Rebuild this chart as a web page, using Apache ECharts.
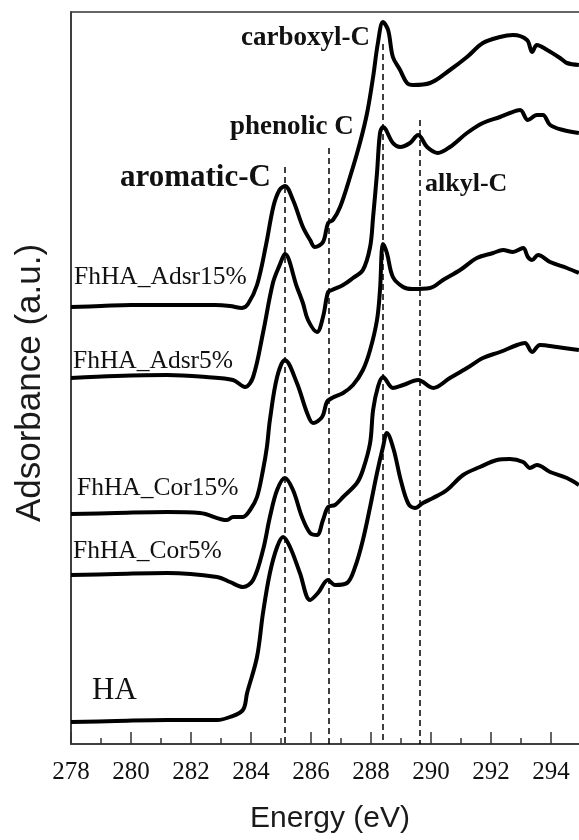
<!DOCTYPE html>
<html>
<head>
<meta charset="utf-8">
<script src="https://cdn.jsdelivr.net/npm/echarts@6/dist/echarts.min.js"></script>
<style>
html,body{margin:0;padding:0;background:#fff;}
#chart{width:579px;height:840px;}
</style>
</head>
<body>
<div id="chart"></div>
<script>
// ---- data (energy eV, absorbance a.u., offset-stacked) ----
const adsr15 = [[278.0,4.37],[279.0,4.38],[280.0,4.39],[281.0,4.39],[282.0,4.39],[282.8,4.39],[283.3,4.38],[283.7,4.36],[283.9,4.40],[284.2,4.59],[284.5,4.99],[284.75,5.38],[284.95,5.54],[285.13,5.58],[285.4,5.44],[285.73,5.17],[285.97,5.04],[286.13,4.97],[286.4,5.02],[286.57,5.21],[286.73,5.24],[286.97,5.37],[287.3,5.67],[287.63,6.01],[287.87,6.31],[288.07,6.67],[288.23,7.01],[288.4,7.22],[288.57,7.14],[288.73,6.87],[288.97,6.74],[289.2,6.61],[289.4,6.59],[289.97,6.61],[290.63,6.74],[291.2,6.87],[291.73,7.01],[292.3,7.07],[292.73,7.09],[293.2,7.04],[293.37,6.92],[293.53,6.99],[293.87,6.94],[294.3,6.86],[294.53,6.81],[294.93,6.79]];
const adsr5 = [[278.0,3.66],[279.5,3.68],[281.2,3.69],[282.5,3.67],[283.4,3.64],[283.8,3.57],[284.07,3.67],[284.4,4.11],[284.73,4.61],[284.97,4.80],[285.13,4.90],[285.53,4.57],[285.73,4.41],[285.9,4.24],[286.2,4.12],[286.4,4.27],[286.57,4.52],[286.7,4.54],[287.07,4.59],[287.4,4.66],[287.73,4.74],[287.97,4.97],[288.07,5.27],[288.2,5.71],[288.3,6.11],[288.4,6.17],[288.73,6.01],[288.97,5.97],[289.3,6.01],[289.57,6.09],[289.87,5.97],[290.23,5.91],[290.63,5.97],[291.2,6.11],[291.73,6.21],[292.3,6.27],[292.63,6.31],[292.97,6.34],[293.23,6.24],[293.53,6.29],[293.73,6.29],[293.97,6.19],[294.4,6.14],[294.93,6.11]];
const cor15 = [[278.0,2.30],[279.5,2.31],[281.2,2.32],[282.3,2.31],[283.2,2.24],[283.4,2.27],[283.73,2.27],[283.97,2.34],[284.2,2.47],[284.4,2.74],[284.53,2.97],[284.63,3.24],[284.87,3.67],[285.13,3.84],[285.53,3.61],[285.87,3.31],[286.07,3.21],[286.37,3.27],[286.53,3.42],[286.7,3.46],[287.07,3.51],[287.4,3.59],[287.73,3.74],[287.97,3.94],[288.2,4.24],[288.3,4.54],[288.4,5.00],[288.53,4.91],[288.73,4.67],[289.07,4.57],[289.37,4.55],[289.97,4.56],[290.4,4.64],[290.97,4.74],[291.53,4.86],[292.07,4.91],[292.4,4.94],[292.73,4.92],[293.07,4.96],[293.23,4.87],[293.37,4.84],[293.57,4.89],[293.97,4.82],[294.53,4.76],[294.93,4.71]];
const cor5 = [[278.0,1.69],[279.5,1.70],[281.2,1.71],[282.87,1.67],[283.3,1.62],[283.73,1.57],[284.07,1.64],[284.4,1.94],[284.63,2.27],[284.87,2.54],[285.13,2.66],[285.4,2.54],[285.7,2.27],[285.97,2.11],[286.2,2.09],[286.4,2.24],[286.57,2.37],[286.8,2.39],[287.07,2.47],[287.53,2.61],[287.73,2.74],[287.97,3.01],[288.07,3.34],[288.23,3.57],[288.4,3.67],[288.73,3.56],[289.07,3.59],[289.57,3.64],[290.07,3.56],[290.63,3.66],[291.2,3.76],[291.73,3.86],[292.3,3.92],[292.87,3.99],[293.13,4.01],[293.37,3.92],[293.63,3.99],[294.2,3.97],[294.93,3.94]];
const ha = [[278.0,0.22],[279.5,0.23],[281.2,0.24],[282.87,0.24],[283.3,0.27],[283.73,0.34],[283.87,0.51],[284.2,0.87],[284.4,1.31],[284.63,1.71],[284.87,1.97],[285.07,2.07],[285.3,1.97],[285.63,1.71],[285.97,1.44],[286.23,1.51],[286.57,1.64],[286.8,1.59],[287.2,1.61],[287.47,1.77],[287.73,2.04],[287.97,2.37],[288.2,2.71],[288.4,2.97],[288.53,3.11],[288.75,2.95],[289.0,2.63],[289.25,2.40],[289.47,2.36],[289.73,2.41],[290.07,2.46],[290.53,2.54],[291.07,2.69],[291.63,2.77],[292.2,2.84],[292.63,2.85],[293.07,2.82],[293.3,2.76],[293.53,2.79],[293.97,2.72],[294.53,2.66],[294.93,2.59]];

const seriesNames = ['FhHA_Adsr15%','FhHA_Adsr5%','FhHA_Cor15%','FhHA_Cor5%','HA'];
const seriesData = [adsr15, adsr5, cor15, cor5, ha];

const peakNames = ['aromatic-C','phenolic C','carboxyl-C','alkyl-C'];
const peakEnergy = [285.13, 286.6, 288.4, 289.62];
const peakLineTop = [5.77, 5.96, 7.0, 6.24];

const xTickMin = 278, xTickMax = 296, xTickStep = 2;
const xTitle = 'Energy (eV)';
const yTitle = 'Adsorbance (a.u.)';

// ---- chart ----
const chart = echarts.init(document.getElementById('chart'), null, {renderer:'canvas'});
const SERIF = '"Liberation Serif","Times New Roman",serif';
const SANS = '"Liberation Sans",Arial,sans-serif';
const axisColor = '#333';

const lineSeries = seriesNames.map((n, i) => ({
  name: n, type: 'line', data: seriesData[i], showSymbol: false, symbol: 'none',
  smooth: 0.35, lineStyle: {color: '#000', width: 4}, silent: true, z: 3
}));
lineSeries.push({
  type: 'line', data: [], silent: true, z: 2,
  markLine: {
    silent: true, symbol: ['none','none'], label: {show: false},
    lineStyle: {color: '#000', width: 1.5, type: [6, 4]},
    data: peakEnergy.map((e, i) => [{coord: [e, peakLineTop[i]]}, {coord: [e, 0]}])
  }
});

const labelPos = [ // [x, y] pixel anchors for sample labels
  [74, 277], [73, 361], [77, 488], [73, 551], [92, 691]
];
const labelSize = [25.5, 25.5, 25.5, 25.5, 31];
const peakLabelPos = [[120, 178], [230, 127], [241, 38], [425, 184]];
const peakLabelSize = [31, 27, 27, 26];

const graphics = [];
seriesNames.forEach((n, i) => graphics.push({
  type: 'text', x: labelPos[i][0], y: labelPos[i][1], silent: true,
  style: {text: n, font: labelSize[i] + 'px ' + SERIF, fill: '#111', align: 'left', verticalAlign: 'middle'}
}));
peakNames.forEach((n, i) => graphics.push({
  type: 'text', x: peakLabelPos[i][0], y: peakLabelPos[i][1], silent: true,
  style: {text: n, font: 'bold ' + peakLabelSize[i] + 'px ' + SERIF, fill: '#111', align: 'left', verticalAlign: 'middle'}
}));
graphics.push({
  type: 'text', x: 330, y: 819, silent: true,
  style: {text: xTitle, font: '30px ' + SANS, fill: '#1a1a1a', align: 'center', verticalAlign: 'middle'}
});
graphics.push({
  type: 'text', x: 30, y: 383, rotation: Math.PI / 2, silent: true,
  style: {text: yTitle, font: '35px ' + SANS, fill: '#1a1a1a', align: 'center', verticalAlign: 'middle'}
});

chart.setOption({
  animation: false,
  backgroundColor: '#fff',
  grid: {left: 71, top: 12, width: 540, height: 732, outerBoundsMode: 'none', containLabel: false,
         show: true, borderColor: axisColor, borderWidth: 1.5, backgroundColor: 'transparent'},
  xAxis: {
    type: 'value', min: xTickMin, max: xTickMax, interval: xTickStep,
    axisLine: {show: true, onZero: false, lineStyle: {color: axisColor, width: 1.5}},
    axisTick: {show: true, inside: true, length: 12, lineStyle: {color: axisColor, width: 1.5}},
    minorTick: {show: true, splitNumber: 2, length: 6, lineStyle: {color: axisColor, width: 1.5}},
    axisLabel: {fontSize: 25, fontFamily: SERIF, color: '#111', margin: 16, showMaxLabel: false},
    splitLine: {show: false}, minorSplitLine: {show: false}
  },
  yAxis: {
    type: 'value', min: 0, max: 7.32,
    axisLine: {show: true, lineStyle: {color: axisColor, width: 1.5}},
    axisTick: {show: false}, axisLabel: {show: false}, splitLine: {show: false}
  },
  series: lineSeries,
  graphic: graphics
});
</script>
</body>
</html>
